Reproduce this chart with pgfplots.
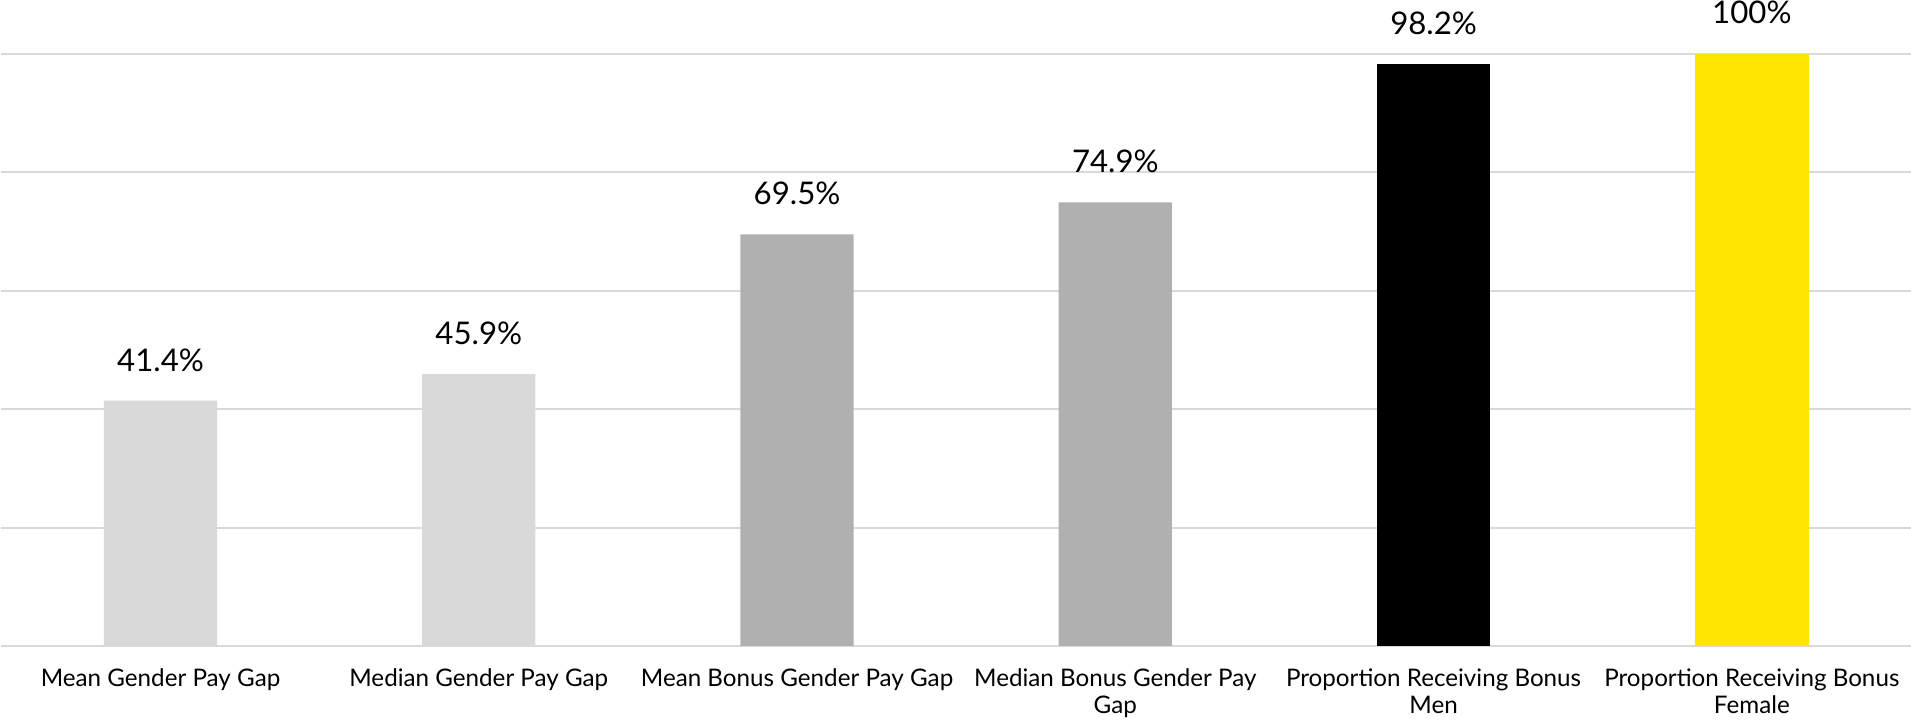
\documentclass[border=0pt]{standalone}
\usepackage{fontspec}
\setmainfont{Lato}
\usepackage{pgfplots}
\pgfplotsset{compat=1.18}
\definecolor{lgray}{HTML}{D9D9D9}
\definecolor{mgray}{HTML}{B0B0B0}
\definecolor{eyyellow}{HTML}{FFE600}
\definecolor{gridc}{HTML}{D9D9D9}
\begin{document}
\begin{tikzpicture}
\begin{axis}[
  scale only axis, width=954.8pt, height=296.2pt,
  xmin=-0.5, xmax=5.5, ymin=0, ymax=100,
  axis line style={draw=none},
  ytick={0,20,40,60,80,100}, yticklabels={},
  ymajorgrids, grid style={gridc, line width=1pt},
  major tick length=0pt,
  xtick={0,1,2,3,4,5},
  xticklabels={Mean Gender Pay Gap, Median Gender Pay Gap, Mean Bonus Gender Pay Gap, {Median Bonus Gender Pay\\Gap}, {Proportion Receiving Bonus\\Men}, {Proportion Receiving Bonus\\Female}},
  xticklabel style={align=center, font=\fontsize{12.1}{13.5}\selectfont, inner sep=0pt, anchor=north, yshift=-11.3pt},
  ybar, bar width=0.356, bar shift=0pt,
  nodes near coords={\pgfmathprintnumber[fixed,precision=1]{\pgfplotspointmeta}\%},
  nodes near coords style={font=\fontsize{15.6}{19}\selectfont, anchor=base, inner sep=0pt, yshift=14.8pt, text=black},
  /pgf/number format/assume math mode=true,
  clip=false,
]
\addplot[fill=lgray, draw=none] coordinates {(0,41.4) (1,45.9)};
\addplot[fill=mgray, draw=none] coordinates {(2,69.5) (3,74.9)};
\addplot[fill=black, draw=none] coordinates {(4,98.2)};
\addplot[fill=eyyellow, draw=none] coordinates {(5,100)};
\end{axis}
\pgfresetboundingbox
\path[use as bounding box] (-0.7pt,-37.5pt) rectangle (954.8pt,323pt);
\end{tikzpicture}
\end{document}
